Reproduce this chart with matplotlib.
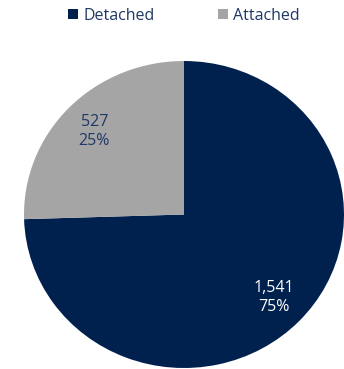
import matplotlib.pyplot as plt
from matplotlib.patches import Patch

labels = ["Detached", "Attached"]
counts = [1541, 527]
colors = ["#00204E", "#A5A5A5"]
text_colors = ["white", "#1F3864"]

plt.rcParams['font.family'] = ['Open Sans', 'DejaVu Sans']

fig = plt.figure(figsize=(3.44, 3.69), dpi=100)
ax = fig.add_axes([24 / 344, 1 / 369, 320 / 344, 307 / 369])

total = sum(counts)
wedges, texts, autotexts = ax.pie(
    counts, colors=colors, startangle=90, counterclock=False,
    autopct=lambda p: "{:,}\n{:.0f}%".format(int(round(p * total / 100)), p),
    pctdistance=0.78, textprops={"fontsize": 11.5, "linespacing": 1.25},
)
for t, c in zip(autotexts, text_colors):
    t.set_color(c)

# the reference pie is slightly squashed vertically
ax.set_aspect("auto")
ax.set_xlim(-1, 1)
ax.set_ylim(-1, 1)

handles = [Patch(facecolor=c, edgecolor="none") for c in colors]
fig.legend(handles, labels, loc="upper center", bbox_to_anchor=(0.535, 1.0),
           ncol=2, frameon=False, fontsize=11.5, labelcolor="#1F3864",
           handlelength=0.6, handleheight=0.6, handletextpad=0.35,
           columnspacing=4.0, borderaxespad=0.1)

fig.savefig("out.png", dpi=100)
